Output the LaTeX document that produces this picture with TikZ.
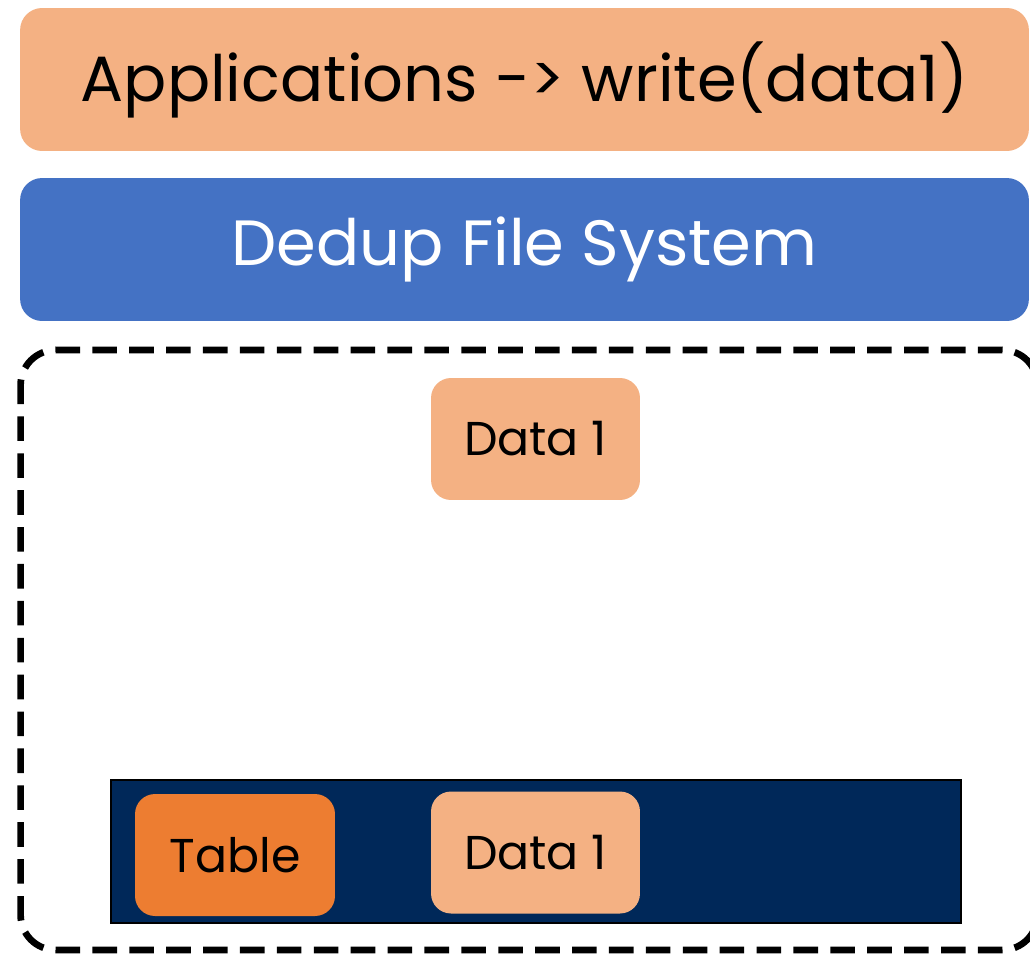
\documentclass[tikz,border=0pt]{standalone}
\usepackage{fontspec}
\setmainfont{Poppins}
\usepackage{tikz}
\usetikzlibrary{positioning}
\definecolor{appsalmon}{HTML}{F4B183}
\definecolor{fsblue}{HTML}{4472C4}
\definecolor{disknavy}{HTML}{002859}
\definecolor{tableorange}{HTML}{ED7D31}
\tikzset{
  layer/.style={
    rectangle, rounded corners=0.44cm,
    minimum width=20.18cm, minimum height=2.86cm,
    text centered, font=\fontsize{36.4}{42}\selectfont
  },
  chunk/.style={
    rectangle, rounded corners=0.4cm, fill=appsalmon,
    minimum width=4.18cm, minimum height=2.44cm,
    text centered, font=\fontsize{27}{32}\selectfont
  },
  storage/.style={
    rectangle, rounded corners=0.7cm, draw=black,
    line width=3.8pt, dash pattern=on 14pt off 7pt,
    minimum width=20.34cm, minimum height=12cm
  },
  disk/.style={
    rectangle, draw=black, fill=disknavy, line width=1.1pt,
    minimum width=17cm, minimum height=2.86cm
  },
}
\begin{document}
\begin{tikzpicture}[x=0.02cm, y=-0.02cm]
  \useasboundingbox (0,0) rectangle (1030,953);
  \node (apps)  [layer, fill=appsalmon]            at (524.5,79.5)  {Applications -> write(data1)};
  \node (dedup) [layer, fill=fsblue, text=white]   at (524.5,249.5) {Dedup File System};

  \node (store) [storage]                          at (529,650)     {};
  \node (incoming) [chunk]                         at (535.5,439)   {Data 1};

  \node (disk)  [disk]                             at (536,851.5)   {};
  \node (table) [chunk, fill=tableorange, minimum width=4cm] at (235,855) {Table};
  \node (stored) [chunk]                           at (535.5,852.5) {Data 1};
\end{tikzpicture}
\end{document}
